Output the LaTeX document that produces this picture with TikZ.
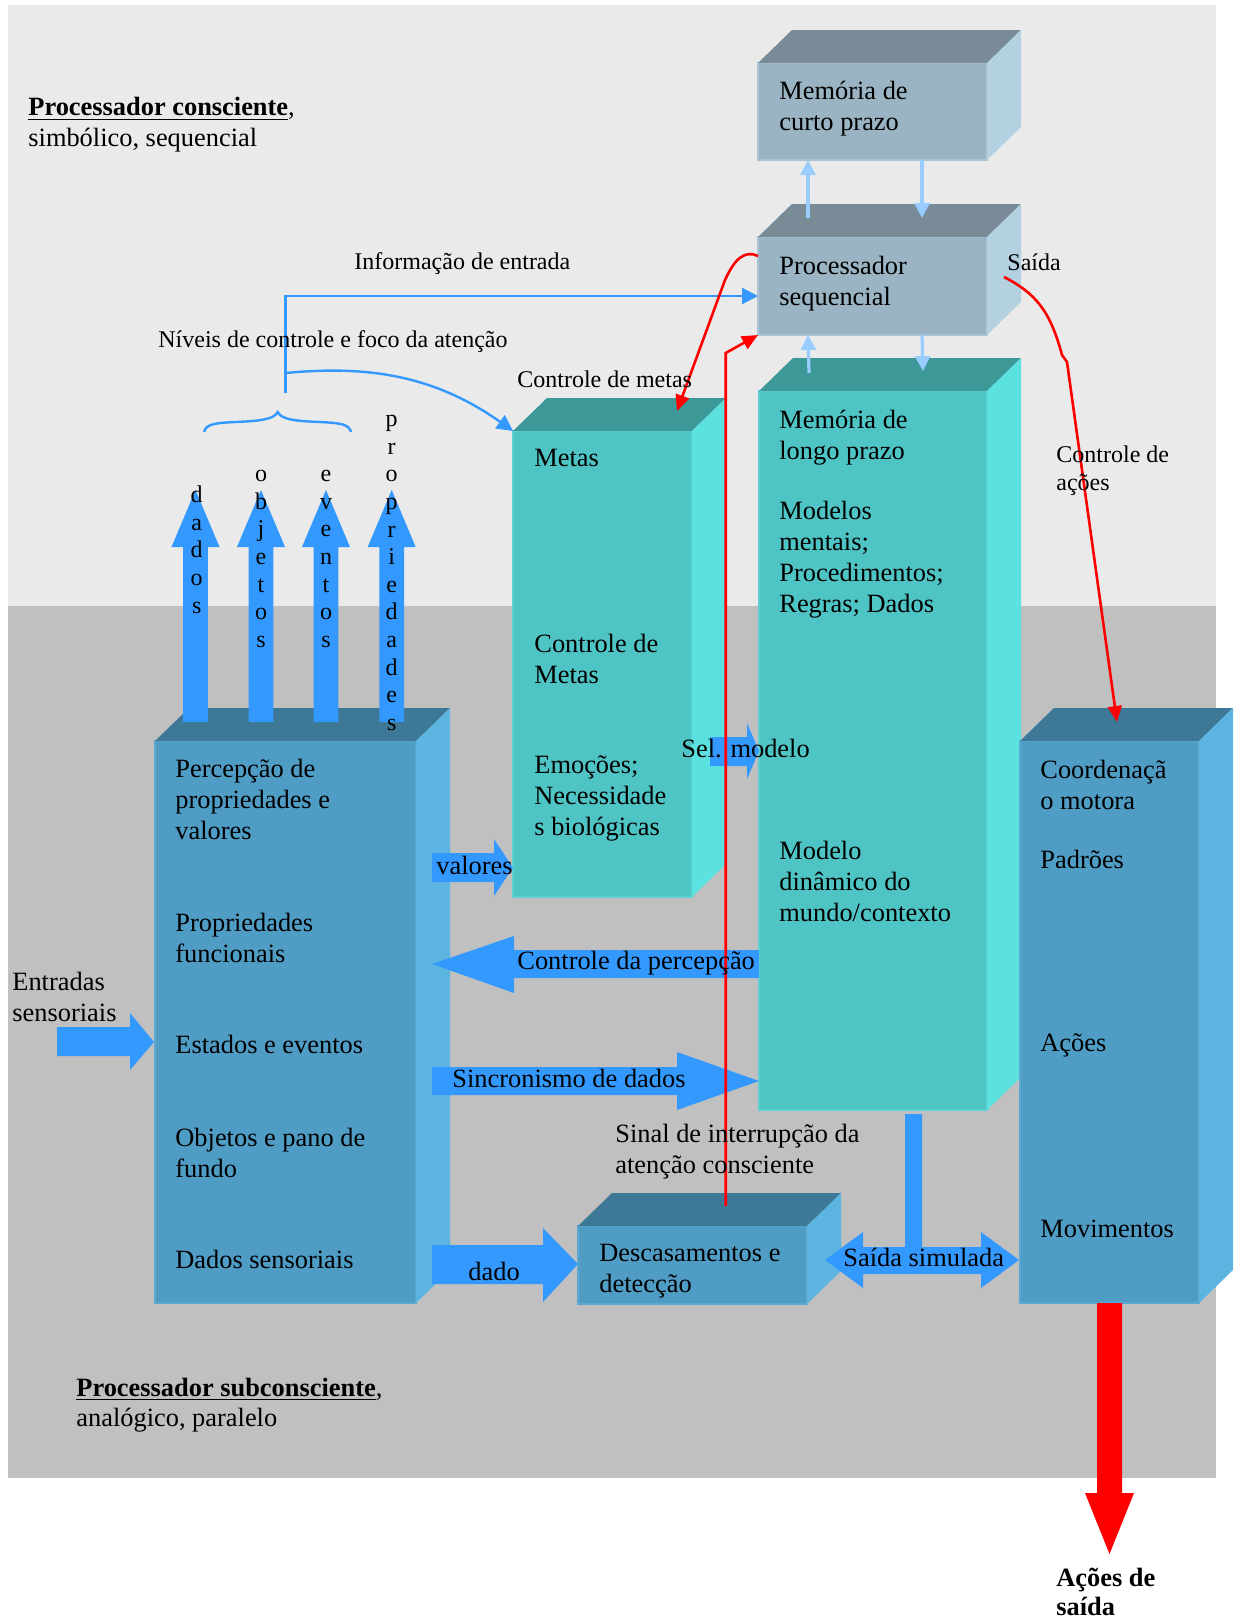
\documentclass[tikz,border=0pt]{standalone}
\usepackage{fontspec}
\setmainfont{Liberation Serif}
\usetikzlibrary{fit,calc,arrows.meta}

\definecolor{bgupper}{HTML}{EAEAEA}
\definecolor{bglower}{HTML}{C0C0C0}
\definecolor{greyfront}{HTML}{9BB4C4}
\definecolor{greytop}{HTML}{798B97}
\definecolor{greyside}{HTML}{B4D1E1}
\definecolor{greyedge}{HTML}{A9C4D4}
\definecolor{tealfront}{HTML}{4FC4C4}
\definecolor{tealtop}{HTML}{3D9898}
\definecolor{tealside}{HTML}{5CE1E1}
\definecolor{tealedge}{HTML}{5CD0D0}
\definecolor{bluefront}{HTML}{4F9CC5}
\definecolor{bluetop}{HTML}{3D7897}
\definecolor{blueside}{HTML}{5CB4E1}
\definecolor{blueedge}{HTML}{5CA8D0}
\definecolor{flow}{HTML}{3399FF}
\definecolor{memlink}{HTML}{99CCFF}
\definecolor{ctrl}{HTML}{FF0000}

\tikzset{
  boxtext/.style={font=\fontsize{13.2}{15.5}\selectfont, align=left, inner sep=0pt, anchor=west},
  lbl/.style={font=\fontsize{12}{14}\selectfont, align=left, inner sep=0pt, anchor=west},
  letter/.style={font=\fontsize{12}{14}\selectfont, inner sep=0pt, anchor=base},
  memarrow/.style={draw=memlink, line width=1.6pt, -{Triangle[width=7.5pt,length=7.5pt]}},
  flowlink/.style={draw=flow, line width=1.2pt, -{Triangle[width=8pt,length=8pt]}},
  ctrllink/.style={draw=ctrl, line width=1.3pt, -{Triangle[width=7pt,length=8pt]}},
}

% a box drawn as a cuboid: front face node, top face and right face
\newcommand\cuboid[4]{%
  \node[fit={#2 #3}, inner sep=0pt, outer sep=0pt, fill=#4front, draw=#4edge, line width=0.6pt] (#1) {};
  \fill[#4top] (#1.north west) -- ([shift={(34,-33)}]#1.north west)
     -- ([shift={(34,-33)}]#1.north east) -- (#1.north east) -- cycle;
  \fill[#4side] (#1.north east) -- ([shift={(34,-33)}]#1.north east)
     -- ([shift={(34,-33)}]#1.south east) -- (#1.south east) -- cycle;
}

\begin{document}
\begin{tikzpicture}[x=0.5pt,y=-0.5pt]
\useasboundingbox (0,0) rectangle (1236,1623);

% conscious and subconscious areas
\fill[bgupper] (8,5) rectangle (1216,606);
\fill[bglower] (8,606) rectangle (1216,1478);

% boxes
\cuboid{stm}{(758,63)}{(987,160)}{grey}
\cuboid{proc}{(758,237)}{(987,335)}{grey}
\cuboid{ltm}{(759,391)}{(987,1110)}{teal}
\cuboid{metas}{(513,431)}{(692,897)}{teal}
\cuboid{perc}{(155,741)}{(416,1303)}{blue}
\cuboid{motor}{(1020,741)}{(1199,1303)}{blue}
\cuboid{desc}{(578,1226)}{(807,1304)}{blue}

% upward perception arrows
\foreach \x in {195.5,261,326,391.7} {
  \fill[flow] ({\x-12.3},722) -- ({\x-12.3},547) -- ({\x-24},547) -- (\x,490)
     -- ({\x+24},547) -- ({\x+12.3},547) -- ({\x+12.3},722) -- cycle;
}

% block arrows
\fill[flow] (57,1027) -- (130,1027) -- (130,1013) -- (154,1042) -- (130,1070) -- (130,1056) -- (57,1056) -- cycle;
\fill[flow] (432,853) -- (494,853) -- (494,839) -- (513,867.5) -- (494,896) -- (494,882) -- (432,882) -- cycle;
\fill[flow] (710,737) -- (747,737) -- (747,723) -- (759,751) -- (747,779) -- (747,766) -- (710,766) -- cycle;
\fill[flow] (759,950) -- (514,950) -- (514,936) -- (432,964) -- (514,993) -- (514,978) -- (759,978) -- cycle;
\fill[flow] (432,1067) -- (677,1067) -- (677,1052) -- (759,1081) -- (677,1110) -- (677,1095) -- (432,1095) -- cycle;
\fill[flow] (432,1245) -- (543,1245) -- (543,1228) -- (578,1264) -- (543,1302) -- (543,1284) -- (432,1284) -- cycle;
\fill[flow] (825,1260) -- (863,1232) -- (863,1247) -- (905,1247) -- (905,1114) -- (922,1114) -- (922,1247)
   -- (981,1247) -- (981,1232) -- (1019,1260) -- (981,1288) -- (981,1274) -- (863,1274) -- (863,1288) -- cycle;
\fill[ctrl] (1097,1303) -- (1122,1303) -- (1122,1493) -- (1134,1493) -- (1109.5,1554) -- (1085,1493) -- (1097,1493) -- cycle;

% memory exchange arrows
\draw[memarrow] ([shift={(50,-19)}]proc.north west) -- ([shift={(50,0)}]stm.south west);
\draw[memarrow] ([shift={(164,0)}]stm.south west) -- ([shift={(164,-19)}]proc.north west);
\draw[memarrow] ([shift={(50,-18)}]ltm.north west) -- ([shift={(50,0)}]proc.south west);
\draw[memarrow] ([shift={(164,0)}]proc.south west) -- ([shift={(164,-20)}]ltm.north west);

% attention brace and input links
\draw[flow, line width=1.2pt] (204,432) .. controls (206,424) and (215,423) .. (235,422)
   .. controls (262,421) and (274,419) .. (277.7,412)
   .. controls (281,419) and (293,421) .. (320,422)
   .. controls (340,423) and (349,424) .. (351,432);
\coordinate (braceTop) at (285.6,393);
\coordinate (infoBend) at (285.6,296);
\coordinate (levelsFork) at (285.6,373);
\draw[flowlink] (braceTop) -- (infoBend) -- (infoBend -| proc.west);
\draw[flowlink] (levelsFork) .. controls (360,366) and (430,372) .. (metas.north west);

% control links
\coordinate (goalStart) at (758,256);
\coordinate (goalTip) at (677,411);
\draw[ctrllink] (goalStart) .. controls (745,250) and (735,258) .. (725,280) -- (goalTip);
\coordinate (alarmStart) at (725.7,1206);
\coordinate (alarmBend) at (725.7,353);
\draw[ctrllink] (alarmStart) -- (alarmBend) -- (proc.south west);
\coordinate (actStart) at (1004,277);
\coordinate (actTip) at (1117,722);
\draw[ctrllink] (actStart) .. controls (1035,293) and (1050,310) .. (1062,355) -- (1067,362) -- (actTip);

% box texts
\node[boxtext] (stmT) at (779,108.5) {Memória de\\curto prazo};
\node[boxtext] (procT) at (779,283.5) {Processador\\sequencial};
\node[boxtext] (ltmA) at (779,437.5) {Memória de\\longo prazo};
\node[boxtext] (ltmB) at (779,560) {Modelos\\mentais;\\Procedimentos;\\Regras; Dados};
\node[boxtext] (ltmC) at (779,881) {Modelo\\dinâmico do\\mundo/contexto};
\node[boxtext] (metasA) at (534,458) {Metas};
\node[boxtext] (metasB) at (534,658.5) {Controle de\\Metas};
\node[boxtext] (metasC) at (534,798) {Emoções;\\Necessidade\\s biológicas};
\node[boxtext] (percA) at (175,799.5) {Percepção de\\propriedades e\\valores};
\node[boxtext] (percB) at (175,937.5) {Propriedades\\funcionais};
\node[boxtext] (percC) at (175,1044) {Estados e eventos};
\node[boxtext] (percD) at (175,1153) {Objetos e pano de\\fundo};
\node[boxtext] (percE) at (175,1259) {Dados sensoriais};
\node[boxtext] (motorA) at (1040,784.5) {Coordenaçã\\o motora};
\node[boxtext] (motorB) at (1040,859) {Padrões};
\node[boxtext] (motorC) at (1040,1045) {Ações};
\node[boxtext] (motorD) at (1040,1229) {Movimentos};
\node[boxtext] (descT) at (599,1271) {Descasamentos e\\detecção};

% arrow texts
\node[boxtext] (valT) at (436,865) {valores};
\node[boxtext] (selT) at (681,749) {Sel. modelo};
\node[boxtext] (cpT) at (517,963) {Controle da percepção};
\node[boxtext] (syncT) at (452,1078) {Sincronismo de dados};
\node[boxtext] (dadoT) at (468,1271) {dado};
\node[boxtext] (simT) at (843,1257) {Saída simulada};

% vertical words on the upward arrows
\foreach \ch [count=\i from 0] in {d,a,d,o,s}
  \node[letter] (dados-\i) at (196.7,{502.7+27.6*\i}) {\ch};
\foreach \ch [count=\i from 0] in {o,b,j,e,t,o,s}
  \node[letter] (objetos-\i) at (261,{481.7+27.6*\i}) {\ch};
\foreach \ch [count=\i from 0] in {e,v,e,n,t,o,s}
  \node[letter] (eventos-\i) at (326,{481.7+27.6*\i}) {\ch};
\foreach \ch [count=\i from 0] in {p,r,o,p,r,i,e,d,a,d,e,s}
  \node[letter] (propr-\i) at (391.7,{426.7+27.6*\i}) {\ch};

% labels
\node[boxtext, font=\fontsize{13.2}{15.5}\selectfont] (consc) at (28,125)
  {\underline{\textbf{Processador consciente}},\\simbólico, sequencial};
\node[boxtext, font=\fontsize{13.2}{15}\selectfont] (subconsc) at (76,1405)
  {\underline{\textbf{Processador subconsciente}},\\analógico, paralelo};
\node[lbl] (infoT) at (354,264) {Informação de entrada};
\node[lbl] (levelsT) at (158,342) {Níveis de controle e foco da atenção};
\node[lbl] (goalT) at (517,379) {Controle de metas};
\node[lbl] (outT) at (1007,262) {Saída};
\node[lbl] (actT) at (1056,471) {Controle de\\ações};
\node[boxtext] (inT) at (12,997) {Entradas\\sensoriais};
\node[boxtext] (alarmT) at (615,1152) {Sinal de interrupção da\\atenção consciente};
\node[boxtext, font=\bfseries\fontsize{13.2}{14.5}\selectfont] (outActT) at (1056,1592) {Ações de\\saída};
\end{tikzpicture}
\end{document}
